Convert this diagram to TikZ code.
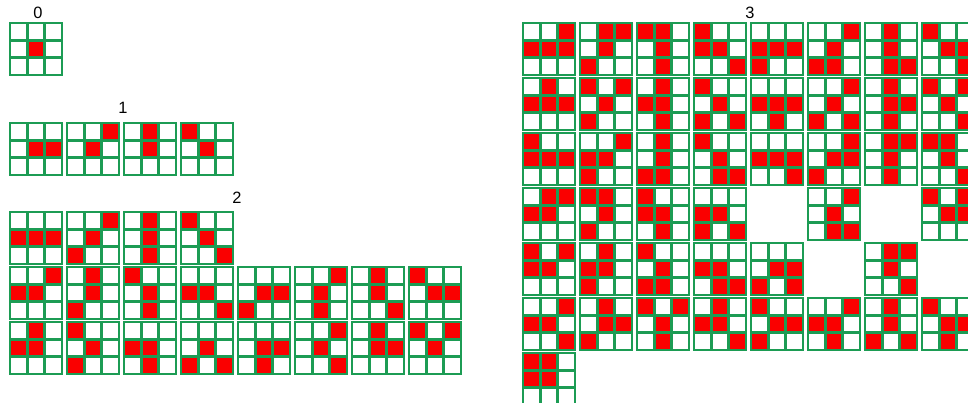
\documentclass[tikz,border=0pt]{standalone}
\usepackage{fontspec}
\setmainfont{Liberation Sans}
\usepackage{tikz}
\definecolor{tkGreen}{RGB}{28,156,84}
\definecolor{tkRed}{RGB}{250,0,0}

% one 3x3 tile: #1 column, #2 row, #3 nine cells (1 = red)
\newcommand{\tile}[3]{%
  \begin{scope}[shift={(#1*57,#2*55)}]
    \foreach \v [count=\i from 0] in {#3} {
      \pgfmathtruncatemacro\cc{mod(\i,3)}
      \pgfmathtruncatemacro\rr{div(\i,3)}
      \ifnum\v=1 \fill[tkRed] (\cc*17.33+1.3,\rr*17.33+1.3) rectangle ++(14.7,14.7);\fi
    }
    \foreach \k in {0,1,2,3} {
      \draw[gl] (\k*17.33,0) -- (\k*17.33,52);
      \draw[gl] (0,\k*17.33) -- (52,\k*17.33);
    }
  \end{scope}}

\begin{document}
\begin{tikzpicture}[
  x=0.03cm, y=-0.03cm,
  gl/.style={tkGreen, line width=2.2pt, line cap=rect},
  lbl/.style={font=\fontsize{14}{16}\selectfont, inner sep=0pt},
]
\useasboundingbox (0,0) rectangle (968,403);
\clip (0,0) rectangle (968,403);
% labels
\node[lbl] (lbl0) at (38,13) {0};
\node[lbl] (lbl1) at (123,108) {1};
\node[lbl] (lbl2) at (237,198) {2};
\node[lbl] (lbl3) at (750,13) {3};
% group 0
\begin{scope}[shift={(10,23)}]
  \tile{0}{0}{0,0,0,0,1,0,0,0,0}
\end{scope}
% group 1
\begin{scope}[shift={(10,123)}]
  \tile{0}{0}{0,0,0,0,1,1,0,0,0}
  \tile{1}{0}{0,0,1,0,1,0,0,0,0}
  \tile{2}{0}{0,1,0,0,1,0,0,0,0}
  \tile{3}{0}{1,0,0,0,1,0,0,0,0}
\end{scope}
% group 2
\begin{scope}[shift={(10,212)}]
  \tile{0}{0}{0,0,0,1,1,1,0,0,0}
  \tile{1}{0}{0,0,1,0,1,0,1,0,0}
  \tile{2}{0}{0,1,0,0,1,0,0,1,0}
  \tile{3}{0}{1,0,0,0,1,0,0,0,1}
  \tile{0}{1}{0,0,1,1,1,0,0,0,0}
  \tile{1}{1}{0,1,0,0,1,0,1,0,0}
  \tile{2}{1}{1,0,0,0,1,0,0,1,0}
  \tile{3}{1}{0,0,0,1,1,0,0,0,1}
  \tile{4}{1}{0,0,0,0,1,1,1,0,0}
  \tile{5}{1}{0,0,1,0,1,0,0,1,0}
  \tile{6}{1}{0,1,0,0,1,0,0,0,1}
  \tile{7}{1}{1,0,0,0,1,1,0,0,0}
  \tile{0}{2}{0,1,0,1,1,0,0,0,0}
  \tile{1}{2}{1,0,0,0,1,0,1,0,0}
  \tile{2}{2}{0,0,0,1,1,0,0,1,0}
  \tile{3}{2}{0,0,0,0,1,0,1,0,1}
  \tile{4}{2}{0,0,0,0,1,1,0,1,0}
  \tile{5}{2}{0,0,1,0,1,0,0,0,1}
  \tile{6}{2}{0,1,0,0,1,1,0,0,0}
  \tile{7}{2}{1,0,1,0,1,0,0,0,0}
\end{scope}
% group 3
\begin{scope}[shift={(523,23)}]
  \tile{0}{0}{0,0,1,1,1,1,0,0,0}
  \tile{1}{0}{0,1,1,0,1,0,1,0,0}
  \tile{2}{0}{1,1,0,0,1,0,0,1,0}
  \tile{3}{0}{1,0,0,1,1,0,0,0,1}
  \tile{4}{0}{0,0,0,1,1,1,1,0,0}
  \tile{5}{0}{0,0,1,0,1,0,1,1,0}
  \tile{6}{0}{0,1,0,0,1,0,0,1,1}
  \tile{7}{0}{1,0,0,0,1,1,0,0,1}
  \tile{0}{1}{0,1,0,1,1,1,0,0,0}
  \tile{1}{1}{1,0,1,0,1,0,1,0,0}
  \tile{2}{1}{0,1,0,1,1,0,0,1,0}
  \tile{3}{1}{1,0,0,0,1,0,1,0,1}
  \tile{4}{1}{0,0,0,1,1,1,0,1,0}
  \tile{5}{1}{0,0,1,0,1,0,1,0,1}
  \tile{6}{1}{0,1,0,0,1,1,0,1,0}
  \tile{7}{1}{1,0,1,0,1,0,0,0,1}
  \tile{0}{2}{1,0,0,1,1,1,0,0,0}
  \tile{1}{2}{0,0,1,1,1,0,1,0,0}
  \tile{2}{2}{0,1,0,0,1,0,1,1,0}
  \tile{3}{2}{1,0,0,0,1,0,0,1,1}
  \tile{4}{2}{0,0,0,1,1,1,0,0,1}
  \tile{5}{2}{0,0,1,0,1,1,1,0,0}
  \tile{6}{2}{0,1,1,0,1,0,0,1,0}
  \tile{7}{2}{1,1,0,0,1,0,0,0,1}
  \tile{0}{3}{0,1,1,1,1,0,0,0,0}
  \tile{1}{3}{1,1,0,0,1,0,1,0,0}
  \tile{2}{3}{1,0,0,1,1,0,0,1,0}
  \tile{3}{3}{0,0,0,1,1,0,1,0,1}
  \tile{5}{3}{0,0,1,0,1,0,0,1,1}
  \tile{7}{3}{1,0,1,0,1,1,0,0,0}
  \tile{0}{4}{1,0,1,1,1,0,0,0,0}
  \tile{1}{4}{0,1,0,1,1,0,1,0,0}
  \tile{2}{4}{1,0,0,0,1,0,1,1,0}
  \tile{3}{4}{0,0,0,1,1,0,0,1,1}
  \tile{4}{4}{0,0,0,0,1,1,1,0,1}
  \tile{6}{4}{0,1,1,0,1,0,0,0,1}
  \tile{0}{5}{0,0,1,1,1,0,0,0,1}
  \tile{1}{5}{0,1,0,0,1,1,1,0,0}
  \tile{2}{5}{1,0,1,0,1,0,0,1,0}
  \tile{3}{5}{0,1,0,1,1,0,0,0,1}
  \tile{4}{5}{1,0,0,0,1,1,1,0,0}
  \tile{5}{5}{0,0,1,1,1,0,0,1,0}
  \tile{6}{5}{0,1,0,0,1,0,1,0,1}
  \tile{7}{5}{1,0,0,0,1,1,0,1,0}
  \tile{0}{6}{1,1,0,1,1,0,0,0,0}
\end{scope}
\end{tikzpicture}
\end{document}
